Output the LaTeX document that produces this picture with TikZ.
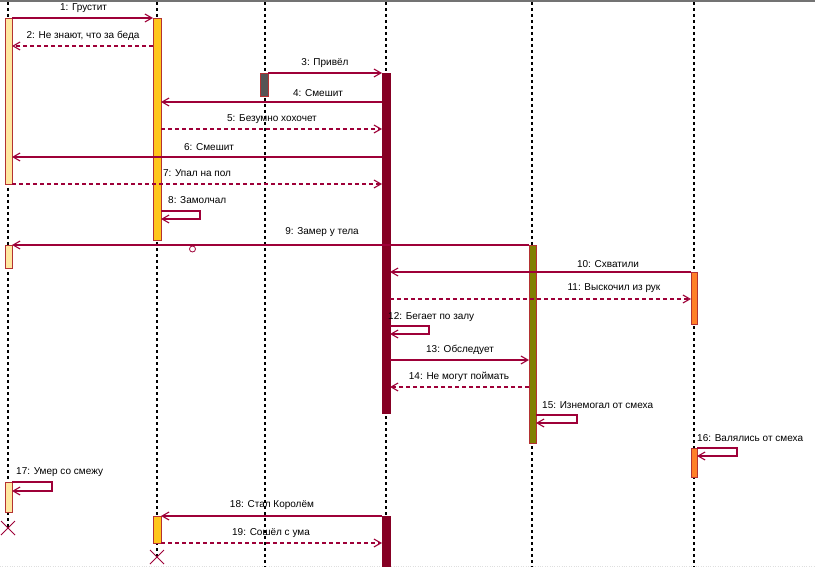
\documentclass[tikz,border=0pt]{standalone}
\usepackage{fontspec}
\setmainfont{Liberation Sans}
\usetikzlibrary{arrows.meta}
\definecolor{msgc}{RGB}{158,0,56}
\definecolor{barline}{RGB}{180,50,50}
\definecolor{cA}{RGB}{255,232,160}
\definecolor{cB}{RGB}{255,198,28}
\definecolor{cC}{RGB}{85,85,85}
\definecolor{cD}{RGB}{134,0,36}
\definecolor{cE}{RGB}{128,128,0}
\definecolor{cF}{RGB}{255,128,40}
\tikzset{
  lifeline/.style={black, line width=1.2pt, dash pattern=on 3pt off 3pt},
  bar/.style={draw=barline, line width=0.8pt, inner sep=0pt, outer sep=0pt, rectangle},
  msg/.style={msgc, line width=1.1pt, -{Straight Barb[length=7pt,width=8pt]}},
  rmsg/.style={msg, dash pattern=on 4pt off 3pt},
  lbl/.style={font=\fontsize{10}{12}\selectfont, text=black, inner sep=0pt},
  killx/.style={msgc, line width=0.9pt},
}
\begin{document}
\begin{tikzpicture}[x=1pt,y=-1pt]
\useasboundingbox (0,0) rectangle (815,567);
\fill[white] (0,0) rectangle (815,567);
\draw[gray!90!black, line width=1.5pt] (0,1) -- (815,1);
\draw[gray!25, dotted] (0,566) -- (815,566);
% lifelines
\coordinate (LA0) at (8,2);   \coordinate (LA1) at (8,528);
\coordinate (LB0) at (157,2); \coordinate (LB1) at (157,557);
\coordinate (LC0) at (265,2); \coordinate (LC1) at (265,567);
\coordinate (LD0) at (386,2); \coordinate (LD1) at (386,567);
\coordinate (LE0) at (532,2); \coordinate (LE1) at (532,567);
\coordinate (LF0) at (694,2); \coordinate (LF1) at (694,567);
\draw[lifeline] (LA0) -- (LA1);
\draw[lifeline] (LB0) -- (LB1);
\draw[lifeline] (LC0) -- (LC1);
\draw[lifeline] (LD0) -- (LD1);
\draw[lifeline] (LE0) -- (LE1);
\draw[lifeline] (LF0) -- (LF1);
% activation bars
\node[bar, fill=cA, minimum width=7pt, minimum height=166pt] (A1) at (8.5,101) {};
\node[bar, fill=cA, minimum width=7pt, minimum height=23pt] (A2) at (8.5,256.5) {};
\node[bar, fill=cA, minimum width=7pt, minimum height=30pt] (A3) at (8.5,497) {};
\node[bar, fill=cB, minimum width=8pt, minimum height=222pt] (B1) at (157,129) {};
\node[bar, fill=cB, minimum width=8pt, minimum height=27pt] (B2) at (157,529.5) {};
\node[bar, fill=cC, draw=barline, minimum width=8pt, minimum height=23pt] (C1) at (264,84.5) {};
\node[bar, fill=cD, draw=cD, minimum width=8pt, minimum height=340pt] (D1) at (386,243) {};
\node[bar, fill=cD, draw=cD, minimum width=8pt, minimum height=51pt] (D2) at (386,541.5) {};
\node[bar, fill=cE, draw=barline, minimum width=7pt, minimum height=198pt] (E1) at (532.5,344) {};
\node[bar, fill=cF, minimum width=6pt, minimum height=52pt] (F1) at (694,298) {};
\node[bar, fill=cF, minimum width=6pt, minimum height=29pt] (F2) at (694,462.5) {};
% messages
\draw[msg]  (A1.east|-0,18)  -- (B1.west|-0,18);
\draw[rmsg] (B1.west|-0,46)  -- (A1.east|-0,46);
\draw[msg]  (C1.east|-0,73)  -- (D1.west|-0,73);
\draw[msg]  (D1.west|-0,102) -- (B1.east|-0,102);
\draw[rmsg] (B1.east|-0,129) -- (D1.west|-0,129);
\draw[msg]  (D1.west|-0,157) -- (A1.east|-0,157);
\draw[rmsg] (A1.east|-0,184) -- (D1.west|-0,184);
\draw[msg]  (B1.east|-0,211) -- (200,211) -- (200,219) -- (B1.east|-0,219);
\draw[msg]  (E1.west|-0,245) -- (A2.east|-0,245);
\coordinate (lost) at (192.5,249);
\draw[msgc, line width=0.8pt] (lost) circle (3pt);
\draw[msg]  (F1.west|-0,272) -- (D1.east|-0,272);
\draw[rmsg] (D1.east|-0,299) -- (F1.west|-0,299);
\draw[msg]  (D1.east|-0,326) -- (429,326) -- (429,334) -- (D1.east|-0,334);
\draw[msg]  (D1.east|-0,360) -- (E1.west|-0,360);
\draw[rmsg] (E1.west|-0,387) -- (D1.east|-0,387);
\draw[msg]  (E1.east|-0,415) -- (577,415) -- (577,423) -- (E1.east|-0,423);
\draw[msg]  (F2.east|-0,448) -- (737,448) -- (737,456) -- (F2.east|-0,456);
\draw[msg]  (A3.east|-0,482) -- (52,482) -- (52,491) -- (A3.east|-0,491);
\draw[msg]  (D2.west|-0,516) -- (B2.east|-0,516);
\draw[rmsg] (B2.east|-0,543) -- (D2.west|-0,543);
% destruction marks
\draw[killx] ([shift={(-7,-7)}]LA1) -- ([shift={(7,7)}]LA1);
\draw[killx] ([shift={(-7,7)}]LA1) -- ([shift={(7,-7)}]LA1);
\draw[killx] ([shift={(-7,-7)}]LB1) -- ([shift={(7,7)}]LB1);
\draw[killx] ([shift={(-7,7)}]LB1) -- ([shift={(7,-7)}]LB1);
% labels
\node[lbl] (l1) at (83.5,8.5) {1: Грустит};
\node[lbl] (l2) at (83,36) {2: Не знают, что за беда};
\node[lbl] (l3) at (325,63) {3: Привёл};
\node[lbl] (l4) at (318,93) {4: Смешит};
\node[lbl] (l5) at (272,119) {5: Безумно хохочет};
\node[lbl] (l6) at (209,147) {6: Смешит};
\node[lbl] (l7) at (197,173) {7: Упал на пол};
\node[lbl, anchor=west] (l8) at (168,200) {8: Замолчал};
\node[lbl] (l9) at (322,232) {9: Замер у тела};
\node[lbl] (l10) at (608,264) {10: Схватили};
\node[lbl] (l11) at (614,288) {11: Выскочил из рук};
\node[lbl, anchor=west] (l12) at (388,317) {12: Бегает по залу};
\node[lbl] (l13) at (460,350) {13: Обследует};
\node[lbl] (l14) at (459,377) {14: Не могут поймать};
\node[lbl, anchor=west] (l15) at (542,405.5) {15: Изнемогал от смеха};
\node[lbl, anchor=west] (l16) at (697,438) {16: Валялись от смеха};
\node[lbl, anchor=west] (l17) at (16,472) {17: Умер со смежу};
\node[lbl] (l18) at (272,505) {18: Стал Королём};
\node[lbl] (l19) at (271,533) {19: Сошёл с ума};
\end{tikzpicture}
\end{document}
